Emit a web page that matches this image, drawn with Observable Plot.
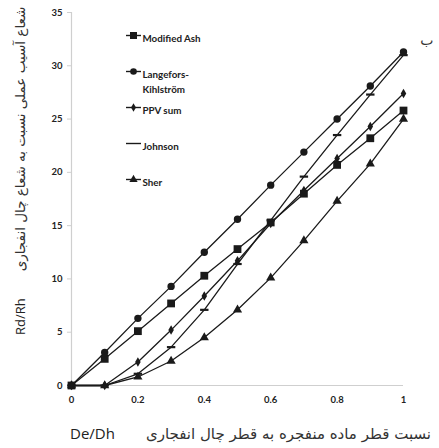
<!DOCTYPE html>
<html>
<head>
<meta charset="utf-8">
<script src="https://cdn.jsdelivr.net/npm/d3@7"></script>
<script src="https://cdn.jsdelivr.net/npm/@observablehq/plot@0.6"></script>
<style>
  body { margin: 0; background: #fff; }
  #chart svg { display: block; }
</style>
</head>
<body>
<div id="chart"></div>
<script>
// ---- data ----
const xValues = [0, 0.1, 0.2, 0.3, 0.4, 0.5, 0.6, 0.7, 0.8, 0.9, 1.0];
const modifiedAsh = [0, 2.5, 5.1, 7.7, 10.3, 12.8, 15.3, 18.0, 20.7, 23.2, 25.8];
const langefors   = [0, 3.1, 6.3, 9.3, 12.5, 15.6, 18.8, 21.9, 25.0, 28.1, 31.3];
const ppvSum      = [0, 0, 2.2, 5.2, 8.4, 11.7, 15.2, 18.3, 21.3, 24.3, 27.4];
const johnson     = [0, 0, 1.1, 3.6, 7.1, 11.4, 15.5, 19.6, 23.5, 27.3, 31.0];
const sher        = [0, 0, 0.8, 2.3, 4.5, 7.1, 10.1, 13.6, 17.3, 20.8, 25.0];

const seriesNames = ["Modified Ash", "Langefors-\nKihlström", "PPV sum", "Johnson", "Sher"];
const seriesValues = [modifiedAsh, langefors, ppvSum, johnson, sher];
const xTicks = [0, 0.2, 0.4, 0.6, 0.8, 1];
const yTicks = [0, 5, 10, 15, 20, 25, 30, 35];
const yTitleFa = "شعاع آسیب عملی نسبت به شعاع چال انفجاری";
const yTitleEn = "Rd/Rh";
const xTitleFa = "نسبت قطر ماده منفجره به قطر چال انفجاری";
const xTitleEn = "De/Dh";
const panelLabel = "ب";

// ---- styling ----
const dash = { draw(ctx, size) { ctx.rect(-4.2, -1.1, 8.4, 2.2); } };
const legendLine = { draw(ctx, size) { ctx.rect(-7.5, -0.7, 15, 1.4); } };
const symbols = ["square", "circle", "diamond", dash, "triangle"];
const radii = [4.4, 3.7, 2.9, 4, 3.4];

const rows = [];
seriesNames.forEach((name, s) => {
  xValues.forEach((x, i) => rows.push({ series: s, x, y: seriesValues[s][i] }));
});

const ink = "#1a1a1a";
const latin = "Lato, 'Open Sans', sans-serif";
const farsi = "'DejaVu Sans', sans-serif";

const marks = [
  Plot.ruleX([0], { stroke: "#cfcfcf", strokeWidth: 1.2 }),
  Plot.ruleY([0], { stroke: "#cfcfcf", strokeWidth: 1.2 }),
  Plot.axisY({ ticks: yTicks, tickSize: 4, tickPadding: 5, stroke: "#cfcfcf", fill: "#222", fontWeight: "bold", fontSize: 9.5, label: null, fontFamily: latin }),
  Plot.axisX({ ticks: xTicks, tickSize: 0, tickPadding: 11, tickFormat: d => String(d), fill: "#222", fontWeight: "bold", fontSize: 9.5, label: null, fontFamily: latin }),
  ...seriesNames.map((name, s) => Plot.line(rows.filter(r => r.series === s), { x: "x", y: "y", stroke: ink, strokeWidth: 1.3 })),
  ...seriesNames.map((name, s) => Plot.dot(rows.filter(r => r.series === s), { x: "x", y: "y", symbol: () => symbols[s], r: radii[s], fill: ink, stroke: "none" })),
  // legend
  ...seriesNames.map((name, s) => Plot.dot([name], { frameAnchor: "top-left", dx: 62, dy: 23 + 36 * s, symbol: () => legendLine, r: 3, fill: ink })),
  ...seriesNames.map((name, s) => s === 3 ? null : Plot.dot([name], { frameAnchor: "top-left", dx: 62, dy: 23 + 36 * s, symbol: () => symbols[s], r: radii[s] * 0.9, fill: ink })),
  ...seriesNames.map((name, s) => Plot.text([name], { frameAnchor: "top-left", dx: 71, dy: 23 + 36 * s - 5, text: d => d, textAnchor: "start", lineAnchor: "top", lineHeight: 1.6, fontSize: 9.8, fontWeight: "bold", fill: "#222", fontFamily: latin })),
  // axis titles
  Plot.text([yTitleFa], { frameAnchor: "left", text: d => d, rotate: -90, dx: -51, dy: -60, fontSize: 13.5, fill: "#333", fontFamily: farsi }),
  Plot.text([yTitleEn], { frameAnchor: "left", text: d => d, rotate: -90, dx: -51, dy: 136, fontSize: 13, fill: "#222", fontFamily: "'Open Sans', sans-serif" }),
  Plot.text([xTitleFa], { frameAnchor: "bottom", text: d => d, dx: 51, dy: 53, fontSize: 15, fill: "#333", fontFamily: farsi }),
  Plot.text([xTitleEn], { frameAnchor: "bottom", text: d => d, dx: -145, dy: 53, fontSize: 15, fill: "#222", fontFamily: "'Open Sans', sans-serif" }),
  Plot.text([panelLabel], { frameAnchor: "top-right", text: d => d, dx: 30, dy: 23, fontSize: 14, fill: "#333", fontFamily: farsi })
].filter(Boolean);

const chart = Plot.plot({
  width: 439,
  height: 448,
  marginLeft: 71,
  marginRight: 36,
  marginTop: 12,
  marginBottom: 63,
  x: { domain: [0, 1] },
  y: { domain: [0, 35] },
  style: { background: "#fff", overflow: "visible" },
  marks
});
document.getElementById("chart").appendChild(chart);

// centre right-to-left titles on their anchor point (bidi layout can offset them)
chart.querySelectorAll("text").forEach(el => {
  if (el.textContent !== yTitleFa && el.textContent !== xTitleFa) return;
  const bb = el.getBBox();
  const x0 = +(el.getAttribute("x") || 0);
  const cx = bb.x + bb.width / 2;
  el.setAttribute("x", x0 + (x0 - cx));
});
</script>
</body>
</html>
